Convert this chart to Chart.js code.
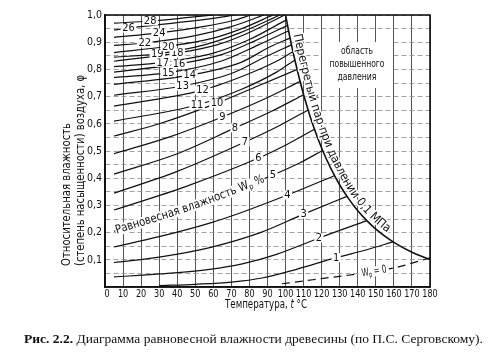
<!DOCTYPE html>
<html>
<head>
<meta charset="utf-8">
<script src="https://cdn.jsdelivr.net/npm/chart.js@4.4.0/dist/chart.umd.min.js"></script>
<style>
html, body { margin: 0; padding: 0; background: #fff; }
#wrap { width: 494px; height: 358px; }
</style>
</head>
<body>
<div id="wrap"><canvas id="chart" width="494" height="358"></canvas></div>
<script>
// оси
const xTicks = [0, 10, 20, 30, 40, 50, 60, 70, 80, 90, 100, 110, 120, 130, 140, 150, 160, 170, 180];
const yGrid = [0, 0.05, 0.1, 0.15, 0.2, 0.25, 0.3, 0.35, 0.4, 0.45, 0.5, 0.55, 0.6, 0.65, 0.7, 0.75, 0.8, 0.85, 0.9, 0.95, 1.0];
const yTickValues = [0.1, 0.2, 0.3, 0.4, 0.5, 0.6, 0.7, 0.8, 0.9, 1.0];
const yTickLabels = ['0,1', '0,2', '0,3', '0,4', '0,5', '0,6', '0,7', '0,8', '0,9', '1,0'];

// перегретый пар при 0,1 МПа: t, φ
const steamT = [100, 101, 102, 103, 104, 105, 107.5, 110, 112.5, 115, 120, 125, 130, 135, 140, 145, 150, 160, 170, 180];
const steamPhi = [1.0, 0.965, 0.931, 0.899, 0.868, 0.839, 0.770, 0.707, 0.651, 0.599, 0.510, 0.437, 0.375, 0.324, 0.280, 0.244, 0.213, 0.164, 0.128, 0.101];

// линии равновесной влажности [t, φ]
const w0 = [[98, 0.012], [110, 0.022], [120, 0.031], [140, 0.048], [160, 0.07], [180, 0.107]];
const w1 = [[30, 0.005], [50, 0.01], [70, 0.018], [87, 0.033], [106, 0.065], [128, 0.108], [145, 0.137], [159.5, 0.166]];
const w2 = [[5, 0.037], [30, 0.048], [58, 0.065], [76, 0.085], [95, 0.12], [118.5, 0.18], [145, 0.244]];
const w3 = [[5, 0.09], [30, 0.11], [58, 0.145], [86, 0.2], [110, 0.268], [134, 0.333]];
const w4 = [[5, 0.147], [30, 0.185], [58, 0.235], [76, 0.275], [101, 0.338], [127, 0.409]];
const w5 = [[5, 0.205], [50, 0.3], [93, 0.412], [108, 0.457], [120.5, 0.502]];
const w6 = [[5, 0.283], [45, 0.37], [85, 0.474], [101, 0.525], [116, 0.58]];
const w7 = [[5, 0.345], [40, 0.425], [77.5, 0.533], [97, 0.595], [112.5, 0.651]];
const w8 = [[5, 0.415], [40, 0.49], [72, 0.585], [92, 0.645], [110, 0.707]];
const w9 = [[5, 0.49], [35, 0.55], [65, 0.625], [88, 0.69], [108, 0.756]];
const w10 = [[5, 0.555], [30, 0.6], [62, 0.676], [85, 0.74], [106.5, 0.8]];
const w11 = [[5, 0.61], [51, 0.669], [75, 0.725], [95, 0.79], [105.2, 0.835]];
const w12 = [[5, 0.665], [54, 0.724], [80, 0.785], [95, 0.83], [104.1, 0.865]];
const w13 = [[5, 0.705], [43, 0.739], [70, 0.785], [90, 0.85], [103.3, 0.89]];
const w14 = [[5, 0.745], [47, 0.779], [75, 0.825], [92, 0.885], [102.5, 0.915]];
const w15 = [[5, 0.77], [35, 0.788], [65, 0.832], [85, 0.89], [101.7, 0.942]];
const w16 = [[5, 0.79], [41, 0.82], [65, 0.855], [83, 0.905], [101.1, 0.962]];
const w17 = [[5, 0.81], [32, 0.826], [60, 0.86], [80, 0.91], [100.5, 0.982]];
const w18 = [[5, 0.83], [40, 0.86], [62, 0.89], [78, 0.93], [99.5, 1.0]];
const w19 = [[5, 0.845], [29, 0.857], [55, 0.89], [75, 0.935], [97, 1.0]];
const w20 = [[5, 0.862], [35, 0.885], [60, 0.915], [75, 0.948], [93, 1.0]];
const w22 = [[5, 0.888], [22, 0.897], [50, 0.924], [70, 0.957], [88, 1.0]];
const w24 = [[5, 0.918], [30, 0.934], [55, 0.958], [70, 0.978], [81, 1.0]];
const w26 = [[5, 0.945], [13, 0.952], [40, 0.972], [58, 0.986], [72, 1.0]];
const w28 = [[5, 0.97], [25, 0.978], [45, 0.99], [60, 1.0]];

const moistureLevels = [1, 2, 3, 4, 5, 6, 7, 8, 9, 10, 11, 12, 13, 14, 15, 16, 17, 18, 19, 20, 22, 24, 26, 28];
const moistureCurves = [w1, w2, w3, w4, w5, w6, w7, w8, w9, w10, w11, w12, w13, w14, w15, w16, w17, w18, w19, w20, w22, w24, w26, w28];
// где стоит подпись на линии (t)
const labelT = [128, 118.5, 110, 101, 93, 85, 77.5, 72, 65, 62, 51, 54, 43, 47, 35, 41, 32, 40, 29, 35, 22, 30, 13, 25];

function hasFont(name) {
    const c = document.createElement('canvas').getContext('2d');
    const s = 'Относительная влажность 0123456789';
    c.font = '20px monospace';
    const a = c.measureText(s).width;
    c.font = `20px '${name}', monospace`;
    return c.measureText(s).width !== a;
}

const sans = hasFont('Liberation Sans Narrow') ? "'Liberation Sans Narrow'"
    : hasFont('DejaVu Sans Condensed') ? "'DejaVu Sans Condensed'" : "'Liberation Sans'";
const serif = "'Liberation Serif', 'DejaVu Serif', serif";

function pointAtT(chart, dsIndex, t, pts) {
    const xs = chart.scales.x, ys = chart.scales.y;
    const px = xs.getPixelForValue(t);
    const line = chart.getDatasetMeta(dsIndex).dataset;
    let p = line && line.interpolate ? line.interpolate({ x: px }, 'x') : null;
    if (Array.isArray(p)) p = p[0];
    if (p && isFinite(p.y)) return { x: px, y: p.y };
    // запасной вариант: линейно
    for (let i = 1; i < pts.length; i++) {
        if (t <= pts[i][0]) {
            const a = pts[i - 1], b = pts[i];
            const k = (t - a[0]) / (b[0] - a[0]);
            return { x: px, y: ys.getPixelForValue(a[1] + k * (b[1] - a[1])) };
        }
    }
    return { x: px, y: ys.getPixelForValue(pts[pts.length - 1][1]) };
}

function samplePath(chart, dsIndex, pts, t0, t1) {
    const xs = chart.scales.x;
    const x0 = xs.getPixelForValue(t0), x1 = xs.getPixelForValue(t1);
    const out = [];
    for (let x = x0; x <= x1; x += 0.5) out.push(pointAtT(chart, dsIndex, xs.getValueForPixel(x), pts));
    return out;
}

function textOnPath(ctx, path, parts, offset, halo) {
    const cum = [0];
    for (let i = 1; i < path.length; i++) {
        cum.push(cum[i - 1] + Math.hypot(path[i].x - path[i - 1].x, path[i].y - path[i - 1].y));
    }
    const total = cum[cum.length - 1];
    const at = s => {
        s = Math.max(0, Math.min(total, s));
        let i = 1;
        while (i < cum.length - 1 && cum[i] < s) i++;
        const k = (s - cum[i - 1]) / ((cum[i] - cum[i - 1]) || 1);
        return { x: path[i - 1].x + k * (path[i].x - path[i - 1].x), y: path[i - 1].y + k * (path[i].y - path[i - 1].y) };
    };
    if (halo) {
        ctx.save();
        ctx.strokeStyle = '#fff';
        ctx.lineWidth = halo;
        ctx.beginPath();
        path.forEach((p, i) => i ? ctx.lineTo(p.x, p.y) : ctx.moveTo(p.x, p.y));
        ctx.stroke();
        ctx.restore();
    }
    const chars = [];
    let sum = 0;
    parts.forEach(part => {
        ctx.font = part.font;
        for (const ch of part.t) {
            const w = ctx.measureText(ch).width;
            chars.push({ ch, w, font: part.font, dy: part.dy || 0 });
            sum += w;
        }
    });
    const sx = total / sum;
    const placed = [];
    let s = 0;
    chars.forEach(c => {
        const mid = s + c.w * sx / 2;
        const p = at(mid), pa = at(mid - 4), pb = at(mid + 4);
        placed.push({ c, p, ang: Math.atan2(pb.y - pa.y, pb.x - pa.x) });
        s += c.w * sx;
    });
    // белая подложка, потом буквы
    ['halo', 'fill'].forEach(pass => {
        placed.forEach(({ c, p, ang }) => {
            ctx.save();
            ctx.translate(p.x, p.y);
            ctx.rotate(ang);
            ctx.translate(0, -offset + c.dy);
            ctx.scale(sx, 1);
            ctx.font = c.font;
            ctx.textAlign = 'center';
            ctx.textBaseline = 'middle';
            if (pass === 'halo') {
                ctx.strokeStyle = '#fff';
                ctx.lineWidth = 3;
                ctx.lineJoin = 'round';
                ctx.strokeText(c.ch, 0, 0);
            } else {
                ctx.fillStyle = '#111';
                ctx.fillText(c.ch, 0, 0);
            }
            ctx.restore();
        });
    });
}

function drawRich(ctx, parts, x, y, width, angle, align) {
    ctx.save();
    ctx.translate(x, y);
    if (angle) ctx.rotate(angle);
    let total = 0;
    parts.forEach(p => { ctx.font = p.font; p.w = ctx.measureText(p.t).width; total += p.w; });
    const sx = width ? width / total : 1;
    ctx.scale(sx, 1);
    ctx.fillStyle = '#111';
    ctx.textBaseline = 'middle';
    ctx.textAlign = 'left';
    let cx = align === 'center' ? -total / 2 : 0;
    parts.forEach(p => { ctx.font = p.font; ctx.fillText(p.t, cx, p.dy || 0); cx += p.w; });
    ctx.restore();
}

const decorPlugin = {
    id: 'decor',
    afterDatasetsDraw(chart) {
        const { ctx, chartArea: a, scales: { x, y } } = chart;
        const f = size => `${size}px ${sans}`;

        // подписи влажности на линиях
        ctx.save();
        ctx.font = f(11);
        ctx.textAlign = 'center';
        ctx.textBaseline = 'middle';
        moistureLevels.forEach((lv, i) => {
            const p = pointAtT(chart, i, labelT[i], moistureCurves[i]);
            const txt = String(lv);
            const w = ctx.measureText(txt).width + 3;
            ctx.fillStyle = '#fff';
            ctx.fillRect(p.x - w / 2, p.y - 4.5, w, 9);
            ctx.fillStyle = '#111';
            ctx.fillText(txt, p.x, p.y + 0.5);
        });
        ctx.restore();

        // Равновесная влажность Wp %
        const w5Index = moistureLevels.indexOf(5);
        const pathW5 = samplePath(chart, w5Index, w5, 6, 88);
        textOnPath(ctx, pathW5, [
            { t: 'Равновесная влажность W', font: f(12) },
            { t: 'р', font: f(8), dy: 3 },
            { t: ' %', font: f(12) }
        ], 0, 11);

        // перегретый пар
        const steamIndex = moistureCurves.length + 1;
        const steamPts = steamT.map((t, i) => [t, steamPhi[i]]);
        const pathSteam = samplePath(chart, steamIndex, steamPts, 102.2, 155);
        textOnPath(ctx, pathSteam, [{ t: 'Перегретый пар при давлении 0,1 МПа', font: f(12) }], 7.5, 0);

        // Wp = 0
        const zeroIndex = moistureCurves.length;
        const z = pointAtT(chart, zeroIndex, 149, w0);
        const z2 = pointAtT(chart, zeroIndex, 155, w0);
        const zAng = Math.atan2(z2.y - z.y, z2.x - z.x);
        ctx.save();
        ctx.translate(z.x, z.y);
        ctx.rotate(zAng);
        ctx.fillStyle = '#fff';
        ctx.fillRect(-15, -5, 30, 10);
        ctx.restore();
        drawRich(ctx, [
            { t: 'W', font: f(11) },
            { t: 'р', font: f(7.5), dy: 3 },
            { t: ' = 0', font: f(11) }
        ], z.x, z.y, 25, zAng, 'center');

        // область повышенного давления
        ctx.save();
        ctx.fillStyle = '#fff';
        ctx.fillRect(322, 42, 69, 46);
        ctx.restore();
        drawRich(ctx, [{ t: 'область', font: f(11) }], 357, 51.5, 32, 0, 'center');
        drawRich(ctx, [{ t: 'повышенного', font: f(11) }], 357, 64.5, 55, 0, 'center');
        drawRich(ctx, [{ t: 'давления', font: f(11) }], 357, 77.5, 39, 0, 'center');

        // рамка
        ctx.save();
        ctx.strokeStyle = '#111';
        ctx.lineWidth = 1.6;
        ctx.strokeRect(a.left, a.top, a.right - a.left, a.bottom - a.top);
        ctx.restore();

        // подписи оси X (узкие)
        xTicks.forEach(v => {
            const px = x.getPixelForValue(v) + (v === 0 ? 2 : 0);
            ctx.save();
            ctx.font = f(11);
            const w = ctx.measureText(String(v)).width * 0.82;
            ctx.restore();
            drawRich(ctx, [{ t: String(v), font: f(11) }], px - w / 2, a.bottom + 7.5, w, 0);
        });

        // заголовки осей
        drawRich(ctx, [{ t: 'Относительная влажность', font: f(12) }], 67, 266, 143, -Math.PI / 2);
        drawRich(ctx, [{ t: '(степень насыщенности) воздуха, φ', font: f(12) }], 81, 266, 191, -Math.PI / 2);
        drawRich(ctx, [
            { t: 'Температура, ', font: f(12) },
            { t: 't', font: `italic 12px ${sans}` },
            { t: ' °C', font: f(12) }
        ], 225, 305, 82, 0);

        // подпись рисунка
        drawRich(ctx, [
            { t: 'Рис. 2.2.', font: `bold 13px ${serif}` },
            { t: ' Диаграмма равновесной влажности древесины (по П.С. Серговскому).', font: `13px ${serif}` }
        ], 24, 340, 459, 0);
    }
};

const datasets = moistureCurves.map((pts, i) => ({
    label: 'W' + moistureLevels[i],
    data: pts.map(p => ({ x: p[0], y: p[1] })),
    borderColor: '#111',
    borderWidth: 1.2,
    pointRadius: 0,
    cubicInterpolationMode: 'monotone',
    fill: false
}));
datasets.push({
    label: 'W0',
    data: w0.map(p => ({ x: p[0], y: p[1] })),
    borderColor: '#111',
    borderWidth: 1.2,
    borderDash: [8, 5],
    pointRadius: 0,
    cubicInterpolationMode: 'monotone',
    fill: false
});
datasets.push({
    label: 'steam',
    data: steamT.map((t, i) => ({ x: t, y: steamPhi[i] })),
    borderColor: '#111',
    borderWidth: 1.6,
    pointRadius: 0,
    cubicInterpolationMode: 'monotone',
    fill: false
});

new Chart(document.getElementById('chart'), {
    type: 'line',
    data: { datasets },
    options: {
        responsive: false,
        animation: false,
        events: [],
        layout: { padding: { left: 0, right: 64, top: 15, bottom: 0 } },
        plugins: { legend: { display: false }, tooltip: { enabled: false } },
        scales: {
            x: {
                type: 'linear',
                min: 0,
                max: 180,
                afterBuildTicks: s => { s.ticks = xTicks.map(v => ({ value: v })); },
                afterFit: s => { s.height = 71; },
                ticks: { display: false, autoSkip: false },
                grid: { color: '#555', lineWidth: 1, drawTicks: false },
                border: { display: true, color: '#111', width: 1.5 }
            },
            y: {
                min: 0,
                max: 1,
                afterBuildTicks: s => { s.ticks = yGrid.map(v => ({ value: v })); },
                afterFit: s => { s.width = 105; },
                ticks: {
                    autoSkip: false,
                    padding: 3,
                    color: '#111',
                    font: { family: sans, size: 10.5 },
                    callback: v => {
                        const i = yTickValues.findIndex(u => Math.abs(u - v) < 1e-6);
                        return i < 0 ? '' : yTickLabels[i];
                    }
                },
                grid: { color: '#8a8a8a', lineWidth: 0.8, drawTicks: false },
                border: { display: true, color: '#111', width: 1.5, dash: [5, 3] }
            }
        }
    },
    plugins: [decorPlugin]
});
</script>
</body>
</html>
